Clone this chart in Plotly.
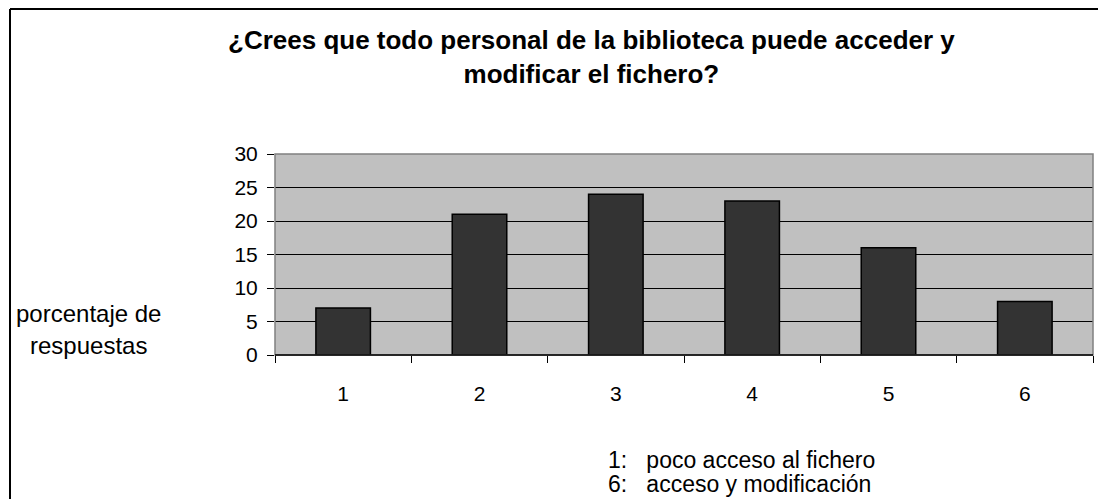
import plotly.graph_objects as go

categories = ["1", "2", "3", "4", "5", "6"]
values = [7, 21, 24, 23, 16, 8]
y_ticks = [0, 5, 10, 15, 20, 25, 30]

title_text = "¿Crees que todo personal de la biblioteca puede acceder y<br>modificar el fichero?"
ylabel_lines = ["porcentaje de", "respuestas"]
note_lines = ["1:\u00a0\u00a0 poco acceso al fichero", "6:\u00a0\u00a0 acceso y modificación"]

W, H = 1098, 499
L, R, T, B = 275, 1093, 154, 355  # plot area in pixels
pw, ph = R - L, B - T

def px(x):
    return (x - L) / pw

def py(y):
    return (B - y) / ph

FONT = "Liberation Sans, Arial, sans-serif"

fig = go.Figure()
fig.add_trace(go.Bar(
    x=categories, y=values, width=0.4,
    marker=dict(color="#333333", line=dict(color="black", width=1.5)),
    showlegend=False,
))

fig.update_layout(
    width=W, height=H,
    margin=dict(l=L, r=W - R, t=T, b=H - B),
    paper_bgcolor="white",
    plot_bgcolor="#c0c0c0",
    font=dict(family=FONT, size=21, color="black"),
    xaxis=dict(
        type="category", tickson="boundaries", ticks="outside", ticklen=7,
        tickcolor="black", tickwidth=1, showgrid=False, showline=False,
        zeroline=False, ticklabelstandoff=24,
        tickfont=dict(size=21, family=FONT, color="black"),
    ),
    yaxis=dict(
        range=[0, 30], tickvals=y_ticks, ticks="outside", ticklen=7,
        tickcolor="black", tickwidth=1, showgrid=True, gridcolor="black",
        gridwidth=1, zeroline=False, showline=False, ticklabelstandoff=5,
        tickfont=dict(size=21, family=FONT, color="black"),
    ),
    bargap=0.6,
)

shapes = [
    dict(type="rect", xref="paper", yref="paper", x0=0, x1=1, y0=0, y1=1,
         line=dict(color="#808080", width=1.5), layer="above"),
    dict(type="line", xref="paper", yref="paper", x0=0, x1=1, y0=0, y1=0,
         line=dict(color="black", width=1.5), layer="above"),
    dict(type="line", xref="paper", yref="paper", x0=px(10), x1=px(10),
         y0=py(9), y1=py(H + 5), line=dict(color="black", width=2)),
    dict(type="line", xref="paper", yref="paper", x0=px(10), x1=px(W + 5),
         y0=py(9), y1=py(9), line=dict(color="black", width=2)),
]
fig.update_layout(shapes=shapes)

ann = [
    dict(text="<b>" + title_text + "</b>", x=px(591), y=py(56.5), xref="paper",
         yref="paper", showarrow=False, xanchor="center", yanchor="middle",
         font=dict(size=26, family=FONT, color="black")),
    dict(text=ylabel_lines[0], x=px(88), y=py(313), xref="paper", yref="paper",
         showarrow=False, xanchor="center", yanchor="middle",
         font=dict(size=24, family=FONT, color="black")),
    dict(text=ylabel_lines[1], x=px(88), y=py(345), xref="paper", yref="paper",
         showarrow=False, xanchor="center", yanchor="middle",
         font=dict(size=24, family=FONT, color="black")),
    dict(text=note_lines[0], x=px(606), y=py(460), xref="paper", yref="paper",
         showarrow=False, xanchor="left", yanchor="middle",
         font=dict(size=23, family=FONT, color="black")),
    dict(text=note_lines[1], x=px(606), y=py(484), xref="paper", yref="paper",
         showarrow=False, xanchor="left", yanchor="middle",
         font=dict(size=23, family=FONT, color="black")),
]
fig.update_layout(annotations=ann)

fig.write_html("out.html", config={"displayModeBar": False},
               post_script="document.body.style.margin='0';")
